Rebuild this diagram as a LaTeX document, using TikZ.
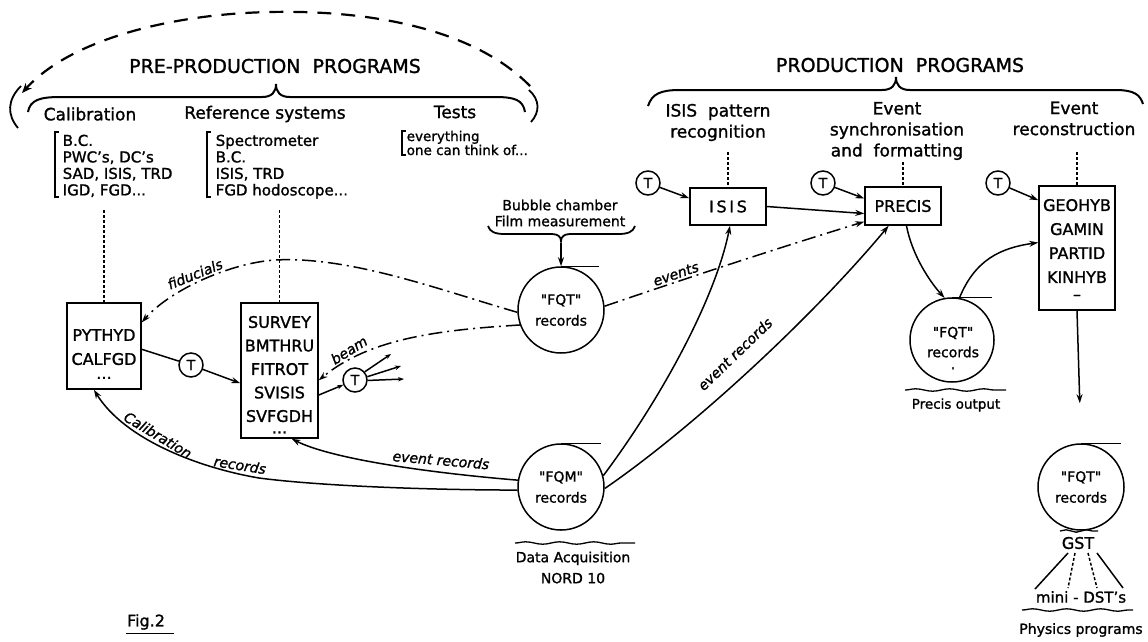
\documentclass[tikz,border=0pt]{standalone}
\usepackage{fontspec}
\setmainfont{DejaVu Sans}[Ligatures=TeXOff,FakeBold=1.3]
\usetikzlibrary{arrows.meta,decorations.pathmorphing}
\begin{document}
\begin{tikzpicture}[x=1pt,y=-1pt,line width=1.5pt,
  >={Stealth[length=9pt,width=6pt]},
  box/.style={draw,rectangle,inner sep=0pt},
  tc/.style={draw,circle,minimum size=24pt,inner sep=0pt,font=\fontsize{14}{14}\selectfont},
  reel/.style={draw,circle,minimum size=86pt,inner sep=0pt,align=center,font=\fontsize{14}{21}\selectfont},
  hd/.style={inner sep=0pt,font=\fontsize{19}{22}\selectfont},
  sub/.style={inner sep=0pt,align=center,font=\fontsize{17}{21}\selectfont},
  lst/.style={align=left,anchor=north west,inner sep=0pt,font=\fontsize{15}{16.5}\selectfont},
  bt/.style={align=center,inner sep=0pt,font=\fontsize{16}{24}\selectfont},
  lab/.style={inner sep=0pt,font=\itshape\fontsize{14}{14}\selectfont},
  dd/.style={dash pattern=on 14pt off 5pt on 2pt off 5pt},
  dotl/.style={dash pattern=on 3pt off 2pt},
  captxt/.style={inner sep=0pt,align=center,font=\fontsize{14}{16}\selectfont},
  wavy/.style={line width=1.3pt,decorate,decoration={snake,amplitude=1.2pt,segment length=34pt}},
  small/.style={-{Stealth[length=6pt,width=4.5pt]}}
]
\useasboundingbox (0,0) rectangle (1148,641);

% ---------- PRE-PRODUCTION ----------
\draw[line width=2.2pt,dash pattern=on 14pt off 10pt,-{Stealth[length=10pt,width=8pt]}]
  (530,86) .. controls (470,25) and (360,10) .. (270,12) .. controls (170,14) and (70,40) .. (22,93);
\node[hd] (pre) at (275,66) {PRE-PRODUCTION\ \ PROGRAMS};
\draw[line width=2pt] (28,112) .. controls (30,100) and (40,97) .. (60,97) -- (262,97)
  .. controls (272,97) and (276,92) .. (276,84) .. controls (276,92) and (280,97) .. (290,97)
  -- (495,97) .. controls (515,97) and (523,100) .. (525,112);
\draw[line width=1.8pt] (21,86) .. controls (7,100) and (7,115) .. (18,128);
\draw[line width=1.8pt] (529,90) .. controls (540,100) and (540,112) .. (531,122);

\node[sub] (cal) at (90,114) {Calibration};
\node[sub] (refs) at (265,114) {Reference systems};
\node[sub] (tests) at (455,112) {Tests};

\node[lst] (callist) at (62,134) {B.C.\\PWC’s, DC’s\\SAD, ISIS, TRD\\IGD, FGD...};
\node[lst] (reflist) at (215,134) {Spectrometer\\B.C.\\ISIS, TRD\\FGD hodoscope...};
\node[lst,font=\fontsize{13.5}{14}\selectfont] (testlist) at (406,130) {everything\\one can think of...};
\draw[line width=1.2pt] (59,132) -- (55,132) -- (55,197) -- (59,197);
\draw[line width=1.2pt] (211,132) -- (207,132) -- (207,197) -- (211,197);
\draw[line width=1.2pt] (406,131) -- (402,131) -- (402,155) -- (406,155);

\node[box,minimum width=74pt,minimum height=86pt] (py) at (104,346) {};
\node[bt] (pyt) at (104,354) {PYTHYD\\CALFGD\\[-10pt]...};
\node[box,minimum width=77pt,minimum height=135pt] (sv) at (279.5,370.5) {};
\node[bt,font=\fontsize{16}{23.5}\selectfont] (svt) at (279.5,374.7) {SURVEY\\BMTHRU\\FITROT\\SVISIS\\SVFGDH\\[-12pt]...};

\coordinate (cald) at (104,210);
\coordinate (refd) at (279.5,210);
\draw[dotl] (cald) -- (py.north);
\draw[dotl] (refd) -- (sv.north);

\node[tc] (t1) at (191,365) {T};
\draw (py.-5) -- (t1);
\draw[->] (t1) -- (sv.198);

\node[tc] (bt) at (355,380) {T};
\draw[small] (sv.-32) -- (bt);
\coordinate (b1) at (391,354);
\coordinate (b2) at (401,366);
\coordinate (b3) at (404,379);
\draw[small] (bt.40) -- (b1);
\draw[small] (bt.15) -- (b2);
\draw[small] (bt.-2) -- (b3);

% ---------- central reels ----------
\node[captxt] (bub) at (560,213) {Bubble chamber\\Film measurement};
\draw[line width=1.8pt] (488,226) .. controls (490,232) and (495,234) .. (505,234) -- (552,234)
  .. controls (558,234) and (561,237) .. (561,241) .. controls (561,237) and (564,234) .. (570,234)
  -- (618,234) .. controls (628,234) and (633,232) .. (635,226);
\coordinate (bubtip) at (561,243);
\node[reel] (cfqt) at (561,310) {"FQT"\\records};
\draw (cfqt.north) -- ++(38,0);
\draw[->] (bubtip) -- (cfqt.north);

\node[reel] (fqm) at (561,487) {"FQM"\\records};
\draw (fqm.north) -- ++(40,0);
\draw[wavy] (515,543) -- (635,543);
\node[captxt,font=\fontsize{14}{21}\selectfont] (daq) at (573,567.5) {Data Acquisition\\NORD 10};

% dash-dot links
\draw[dd,->] (cfqt.183) .. controls (440,290) and (350,256) .. (275,260)
  .. controls (230,263) and (170,290) .. (py.32);
\draw[dd,->] (cfqt.200) .. controls (440,330) and (370,338) .. (sv.-14);

% record links
\draw[->] (fqm.184) .. controls (430,490) and (320,486) .. (259,478)
  .. controls (200,468) and (125,440) .. (py.-103);
\draw[->] (fqm.171) .. controls (420,472) and (330,458) .. (sv.-80);

\node[lab,rotate=22] (fid) at (195,274) {fiducials};
\node[lab,rotate=32] (beam) at (349,350) {beam};
\node[lab,rotate=-31] (calr1) at (158,435) {Calibration};
\node[lab,rotate=-9] (calr2) at (240,465) {records};
\node[lab,rotate=-5] (evr1) at (441,460) {event records};

% ---------- PRODUCTION ----------
\node[hd] (pro) at (900,65) {PRODUCTION\ \ PROGRAMS};
\draw[line width=2pt] (648,106) .. controls (652,94) and (660,90) .. (680,90) -- (882,90)
  .. controls (892,90) and (896,85) .. (896,77) .. controls (896,85) and (900,90) .. (910,90)
  -- (1115,90) .. controls (1135,90) and (1140,95) .. (1143,104);
\node[sub] (isish) at (718,122.5) {ISIS\ \ pattern\\recognition};
\node[sub] (evh) at (897,131) {Event\\synchronisation\\and\ \ formatting};
\node[sub] (rech) at (1074,118.5) {Event\\reconstruction};

\node[box,minimum width=76pt,minimum height=37pt,font=\fontsize{16}{16}\selectfont] (isis) at (728,206.5) {I\,S\,I\,S};
\node[box,minimum width=76pt,minimum height=38pt,font=\fontsize{16}{16}\selectfont] (precis) at (903,206) {PRECIS};
\node[box,minimum width=76pt,minimum height=124pt] (geo) at (1077,248) {};
\node[bt,font=\fontsize{16}{24}\selectfont] (geot) at (1077,249.5) {GEOHYB\\GAMIN\\PARTID\\KINHYB\\[-7pt]–};

\coordinate (isisd) at (728,152);
\coordinate (precd) at (903,162);
\coordinate (geod) at (1077,152);
\draw[dotl] (isisd) -- (isis.north);
\draw[dotl] (precd) -- (precis.north);
\draw[dotl] (geod) -- (geo.north);

\node[tc] (ti) at (648,183) {T};
\node[tc] (tp) at (823,183) {T};
\node[tc] (tg) at (998,183) {T};
\draw[->] (ti) -- (isis.168);
\draw[->] (tp) -- (precis.169);
\draw[->] (tg) -- (geo.129);

\draw[->] (isis.east) -- (precis.191);
\draw[->] (fqm.15) .. controls (660,400) and (715,300) .. (isis.-84);
\draw[->] (fqm.-2) .. controls (690,430) and (810,320) .. (precis.234);
\draw[dd,->] (cfqt.5) .. controls (690,277) and (775,249) .. (precis.202);
\node[lab,rotate=19] (evs) at (676,274) {events};
\node[lab,rotate=44] (evr2) at (735,354) {event records};

\node[reel,minimum size=84pt] (pfqt) at (952,340) {};
\node[captxt,font=\fontsize{14}{20}\selectfont] (pfqtt) at (953,348) {"FQT"\\records\\[-8pt].};
\draw (pfqt.north) -- ++(40,0);
\draw[->] (precis.-80) .. controls (912,255) and (930,282) .. (pfqt.100);
\draw[->] (pfqt.80) .. controls (975,260) and (1000,248) .. (geo.172);
\draw[wavy] (905,390) -- (1006,390);
\node[captxt,font=\fontsize{13.5}{16}\selectfont] (pout) at (956,405) {Precis output};

\node[reel] (bfqt) at (1081,487) {"FQT"\\records};
\draw (bfqt.north) -- ++(40,0);
\draw[->,shorten >=40pt] (geo.south) -- (bfqt.north);

\draw[wavy,segment length=20pt] (1060,531) -- (1098,531);
\node[captxt,font=\fontsize{16}{16}\selectfont] (gst) at (1078,543) {GST};
\node[captxt,font=\fontsize{15}{16}\selectfont] (mini) at (1081,597) {mini - DST’s};
\coordinate (g1) at (1068,553); \coordinate (m1) at (1035,589);
\coordinate (g2) at (1075,553); \coordinate (m2) at (1068,588);
\coordinate (g3) at (1088,553); \coordinate (m3) at (1097,588);
\coordinate (g4) at (1097,553); \coordinate (m4) at (1123,588);
\draw (g1) -- (m1);
\draw[dotl] (g2) -- (m2);
\draw[dotl] (g3) -- (m3);
\draw (g4) -- (m4);
\draw[wavy] (1022,610) -- (1133,610);
\node[captxt] (phys) at (1081,630) {Physics programs};

\node[captxt,font=\fontsize{16}{16}\selectfont] (fig) at (146,622) {Fig.2};
\draw (fig.south west) ++(0,3) -- ++(48,0);
\end{tikzpicture}
\end{document}
